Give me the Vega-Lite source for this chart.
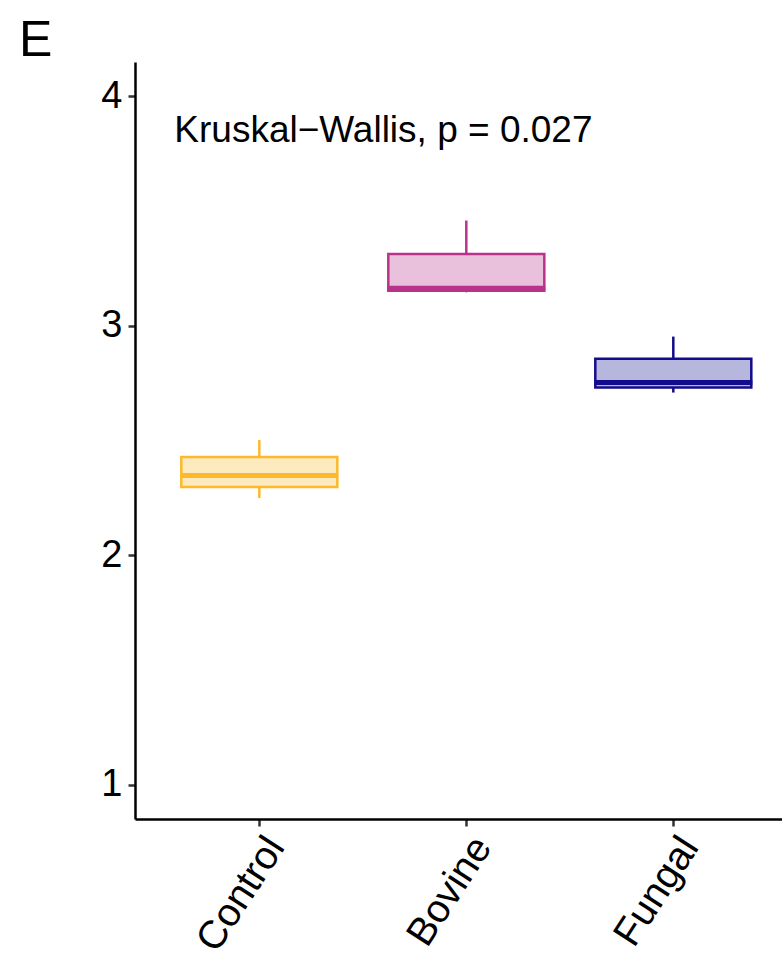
{
  "$schema": "https://vega.github.io/schema/vega-lite/v6.json",
  "autosize": "none",
  "width": 647,
  "height": 757,
  "padding": {"left": 135, "top": 62, "right": 0, "bottom": 137},
  "background": "white",
  "title": {"text": "E", "anchor": "start", "frame": "group", "fontSize": 50, "font": "Liberation Sans", "fontWeight": "normal", "color": "black", "dx": -116, "dy": 49, "baseline": "bottom", "offset": -5},
  "config": {
    "font": "Liberation Sans",
    "view": {"stroke": null},
    "axis": {"grid": false, "domainColor": "black", "domainWidth": 2.5, "tickColor": "#333333", "tickWidth": 2.5, "tickSize": 7, "labelColor": "black", "labelFont": "Liberation Sans", "labelFontSize": 38, "title": null}
  },
  "data": {"values": [
    {"group": "Control", "lower": 2.249, "q1": 2.297, "median": 2.347, "q3": 2.428, "upper": 2.502},
    {"group": "Bovine", "lower": 3.146, "q1": 3.153, "median": 3.164, "q3": 3.313, "upper": 3.459},
    {"group": "Fungal", "lower": 2.709, "q1": 2.731, "median": 2.753, "q3": 2.856, "upper": 2.953}
  ]},
  "encoding": {
    "x": {"field": "group", "type": "nominal", "sort": ["Control", "Bovine", "Fungal"],
      "scale": {"type": "point", "padding": 0.5628, "align": 0.5335},
      "axis": {"labelAngle": -57, "labelAlign": "right", "labelBaseline": "top", "labelPadding": 4, "labelFontSize": 39.5}}
  },
  "layer": [
    {
      "mark": {"type": "rule", "strokeWidth": 2.5},
      "encoding": {
        "y": {"field": "q3", "type": "quantitative", "scale": {"domain": [0.85, 4.15], "nice": false, "zero": false}, "axis": {"values": [1, 2, 3, 4], "format": "d", "labelPadding": 6}},
        "y2": {"field": "upper"},
        "stroke": {"field": "group", "type": "nominal", "legend": null, "scale": {"domain": ["Control", "Bovine", "Fungal"], "range": ["#FDB92B", "#B9338C", "#120C8C"]}}
      }
    },
    {
      "mark": {"type": "rule", "strokeWidth": 2.5},
      "encoding": {
        "y": {"field": "lower", "type": "quantitative"},
        "y2": {"field": "q1"},
        "stroke": {"field": "group", "type": "nominal", "legend": null}
      }
    },
    {
      "mark": {"type": "bar", "size": 156, "strokeWidth": 2.5, "fillOpacity": 0.3},
      "encoding": {
        "y": {"field": "q1", "type": "quantitative"},
        "y2": {"field": "q3"},
        "fill": {"field": "group", "type": "nominal", "legend": null, "scale": {"domain": ["Control", "Bovine", "Fungal"], "range": ["#FDB92B", "#B9338C", "#120C8C"]}},
        "stroke": {"field": "group", "type": "nominal", "legend": null}
      }
    },
    {
      "mark": {"type": "tick", "size": 158, "thickness": 5, "opacity": 1},
      "encoding": {
        "y": {"field": "median", "type": "quantitative"},
        "color": {"field": "group", "type": "nominal", "legend": null, "scale": {"domain": ["Control", "Bovine", "Fungal"], "range": ["#FDB92B", "#B9338C", "#120C8C"]}}
      }
    },
    {
      "data": {"values": [{"group": "Control", "y": 3.803, "label": "Kruskal−Wallis, p = 0.027"}]},
      "mark": {"type": "text", "align": "left", "baseline": "alphabetic", "fontSize": 37, "dx": -85, "color": "black"},
      "encoding": {
        "y": {"field": "y", "type": "quantitative"},
        "text": {"field": "label"}
      }
    }
  ]
}
